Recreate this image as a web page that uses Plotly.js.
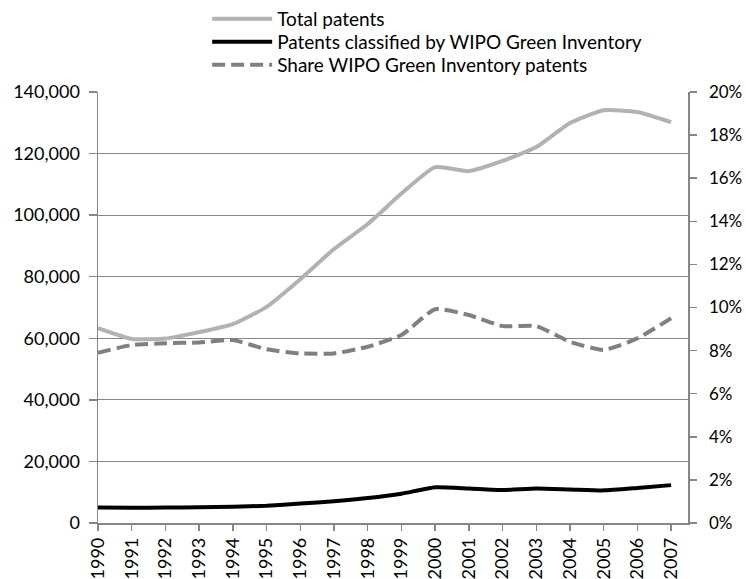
<!DOCTYPE html>
<html>
<head>
<meta charset="utf-8">
<script src="https://cdn.plot.ly/plotly-3.0.1.min.js"></script>
<style>html,body{margin:0;padding:0;background:#fff;}#chart{width:746px;height:579px;}</style>
</head>
<body>
<div id="chart"></div>
<script>
const years = [1990,1991,1992,1993,1994,1995,1996,1997,1998,1999,2000,2001,2002,2003,2004,2005,2006,2007];
const totalPatents = [63300,59800,59900,62000,64600,70200,79200,89000,97100,107000,115600,114300,117600,122100,129900,134100,133500,130200];
const greenPatents = [5000,4950,5000,5100,5300,5600,6300,7100,8100,9500,11600,11200,10700,11200,10900,10600,11400,12300];
const greenShare = [0.0790,0.0826,0.0834,0.0838,0.0849,0.0806,0.0787,0.0787,0.0818,0.0872,0.0992,0.0965,0.0914,0.0914,0.0841,0.0803,0.0857,0.0950];
const leftTicks = [0,20000,40000,60000,80000,100000,120000,140000];

const font = "Lato, 'Liberation Sans', sans-serif";
const axisColor = '#868686';

const traces = [
  {x: years, y: totalPatents, name: 'Total patents', type: 'scatter', mode: 'lines',
   line: {color: '#b2b2b2', width: 4, shape: 'spline', smoothing: 0.5}, yaxis: 'y', legend: 'legend'},
  {x: years, y: greenPatents, name: 'Patents classified by WIPO Green Inventory', type: 'scatter', mode: 'lines',
   line: {color: '#000000', width: 4, shape: 'spline', smoothing: 0.5}, yaxis: 'y', legend: 'legend2'},
  {x: years, y: greenShare, name: 'Share WIPO Green Inventory patents', type: 'scatter', mode: 'lines',
   line: {color: '#808080', width: 4, dash: '13px,6px', shape: 'spline', smoothing: 0.5}, yaxis: 'y2', legend: 'legend3'}
];

function legendAt(rowTop) {
  return {x: 0.185, xanchor: 'left', y: 1 - rowTop / 579, yref: 'container', yanchor: 'top',
          orientation: 'v', font: {family: font, size: 19, color: '#000'},
          itemwidth: 60, bgcolor: 'rgba(0,0,0,0)'};
}

const layout = {
  width: 746, height: 579,
  paper_bgcolor: '#ffffff', plot_bgcolor: '#ffffff',
  font: {family: font, size: 18, color: '#000000'},
  margin: {l: 98, r: 58, t: 92, b: 56, pad: 0},
  showlegend: true,
  legend: legendAt(-1),
  legend2: legendAt(23),
  legend3: legendAt(46),
  xaxis: {type: 'linear', range: [1990, 2007.5], tickvals: years, ticktext: years.map(String),
          tickangle: -90, ticks: 'outside', ticklen: 6, tickcolor: axisColor, tickwidth: 1.5,
          showline: true, linecolor: axisColor, linewidth: 1.5, showgrid: false, zeroline: false,
          tickfont: {family: font, size: 18, color: '#000'}},
  yaxis: {range: [0, 140000], tickvals: leftTicks, tickformat: ',d', ticks: 'outside', ticklen: 8,
          ticklabelstandoff: 5,
          tickcolor: axisColor, tickwidth: 1.5, showline: true, linecolor: axisColor, linewidth: 1.5,
          showgrid: true, gridcolor: axisColor, gridwidth: 1, zeroline: false,
          tickfont: {family: font, size: 18, color: '#000'}},
  yaxis2: {range: [0, 0.2], dtick: 0.02, tickformat: '.0%', overlaying: 'y', side: 'right',
           ticks: 'outside', ticklen: 7, ticklabelstandoff: 9, tickcolor: axisColor, tickwidth: 1.5, showline: true,
           linecolor: axisColor, linewidth: 1.5, showgrid: false, zeroline: false,
           tickfont: {family: font, size: 17, color: '#000'}}
};

Plotly.newPlot('chart', traces, layout, {displayModeBar: false, staticPlot: true});
</script>
</body>
</html>
